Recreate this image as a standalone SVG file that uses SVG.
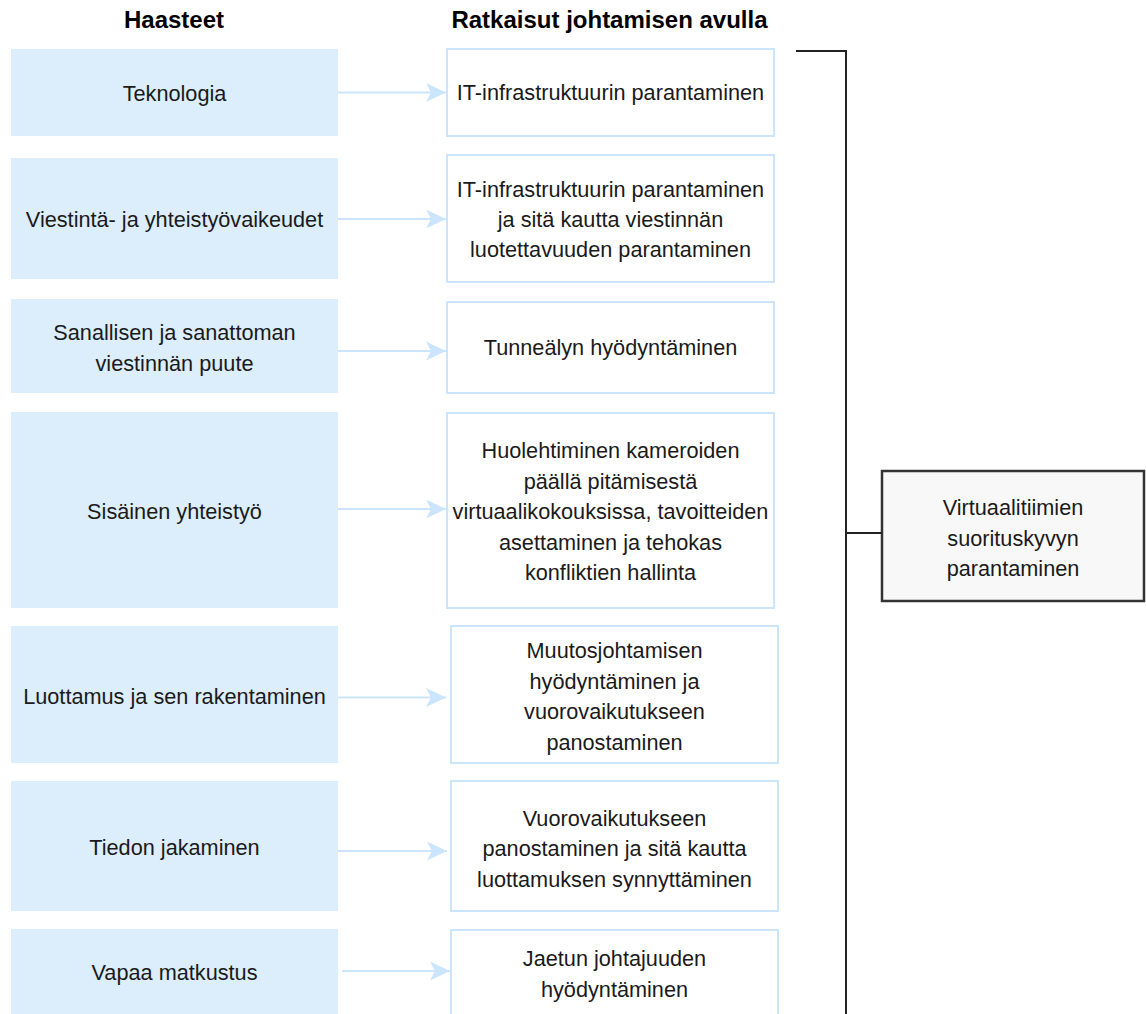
<svg xmlns="http://www.w3.org/2000/svg" width="1146" height="1014" viewBox="0 0 1146 1014">
<defs>
<style>
.hdr{font-family:"Liberation Sans",Arial,sans-serif;font-size:24px;font-weight:bold;fill:#000;text-anchor:middle}
.t{font-family:"Liberation Sans",Arial,sans-serif;font-size:21.7px;fill:#1a1a1a;text-anchor:middle}
.ch{fill:#dcedfb;stroke:none}
.so{fill:#ffffff;stroke:#cce5ff;stroke-width:2}
.res{fill:#f8f8f8;stroke:#333333;stroke-width:2.5}
.arr{stroke:#cce5ff;stroke-width:2;fill:none;marker-end:url(#ah)}
.br{stroke:#222222;stroke-width:2;fill:none}
</style>
<marker id="ah" markerUnits="userSpaceOnUse" markerWidth="20" markerHeight="20" viewBox="0 0 20 20" refX="20" refY="10" orient="auto">
<path d="M20,10 L0,0.5 L5,10 L0,19.5 Z" fill="#cce5ff"/>
</marker>
</defs>
<text class="hdr" x="174" y="28">Haasteet</text>
<text class="hdr" x="609.5" y="28">Ratkaisut johtamisen avulla</text>

<g id="c1"><rect class="ch" x="11" y="49" width="327" height="87"/><text class="t" x="174.5" y="101">Teknologia</text></g>
<g id="c2"><rect class="ch" x="11" y="158" width="327" height="121"/><text class="t" x="174.5" y="227">Viestintä- ja yhteistyövaikeudet</text></g>
<g id="c3"><rect class="ch" x="11" y="299" width="327" height="94"/><text class="t" x="174.5" y="340">Sanallisen ja sanattoman</text><text class="t" x="174.5" y="370.5">viestinnän puute</text></g>
<g id="c4"><rect class="ch" x="11" y="412" width="327" height="196"/><text class="t" x="174.5" y="519">Sisäinen yhteistyö</text></g>
<g id="c5"><rect class="ch" x="11" y="626" width="327" height="137"/><text class="t" x="174.5" y="704">Luottamus ja sen rakentaminen</text></g>
<g id="c6"><rect class="ch" x="11" y="781" width="327" height="130"/><text class="t" x="174.5" y="855">Tiedon jakaminen</text></g>
<g id="c7"><rect class="ch" x="11" y="929" width="327" height="100"/><text class="t" x="174.5" y="980">Vapaa matkustus</text></g>

<g id="s1"><rect class="so" x="447" y="49" width="327" height="87"/><text class="t" x="610.5" y="100">IT-infrastruktuurin parantaminen</text></g>
<g id="s2"><rect class="so" x="447" y="155" width="327" height="127"/><text class="t" x="610.5" y="196.5">IT-infrastruktuurin parantaminen</text><text class="t" x="610.5" y="226.5">ja sitä kautta viestinnän</text><text class="t" x="610.5" y="256.5">luotettavuuden parantaminen</text></g>
<g id="s3"><rect class="so" x="447" y="302" width="327" height="91"/><text class="t" x="610.5" y="355">Tunneälyn hyödyntäminen</text></g>
<g id="s4"><rect class="so" x="447" y="413" width="327" height="195"/><text class="t" x="610.5" y="458">Huolehtiminen kameroiden</text><text class="t" x="610.5" y="488.5">päällä pitämisestä</text><text class="t" x="610.5" y="519">virtuaalikokouksissa, tavoitteiden</text><text class="t" x="610.5" y="549.5">asettaminen ja tehokas</text><text class="t" x="610.5" y="580">konfliktien hallinta</text></g>
<g id="s5"><rect class="so" x="451" y="626" width="327" height="137"/><text class="t" x="614.5" y="658">Muutosjohtamisen</text><text class="t" x="614.5" y="688.5">hyödyntäminen ja</text><text class="t" x="614.5" y="719">vuorovaikutukseen</text><text class="t" x="614.5" y="749.5">panostaminen</text></g>
<g id="s6"><rect class="so" x="451" y="781" width="327" height="130"/><text class="t" x="614.5" y="825.5">Vuorovaikutukseen</text><text class="t" x="614.5" y="856">panostaminen ja sitä kautta</text><text class="t" x="614.5" y="886.5">luottamuksen synnyttäminen</text></g>
<g id="s7"><rect class="so" x="451" y="930" width="327" height="100"/><text class="t" x="614.5" y="966">Jaetun johtajuuden</text><text class="t" x="614.5" y="996.5">hyödyntäminen</text></g>

<g id="result"><rect class="res" x="882" y="471" width="262" height="130"/><text class="t" x="1013" y="515">Virtuaalitiimien</text><text class="t" x="1013" y="545.5">suorituskyvyn</text><text class="t" x="1013" y="576">parantaminen</text></g>

<g id="connectors">
<line class="arr" x1="338" y1="92.5" x2="446" y2="92.5"/>
<line class="arr" x1="338" y1="219" x2="446" y2="219"/>
<line class="arr" x1="338" y1="351" x2="446" y2="351"/>
<line class="arr" x1="338" y1="509" x2="446" y2="509"/>
<line class="arr" x1="338" y1="697.5" x2="446" y2="697.5"/>
<line class="arr" x1="338" y1="851" x2="447" y2="851"/>
<line class="arr" x1="342" y1="971" x2="450" y2="971"/>
<path class="br" d="M796,51 H846 V1014"/>
<path class="br" d="M846,533 H882"/>
</g>
</svg>
